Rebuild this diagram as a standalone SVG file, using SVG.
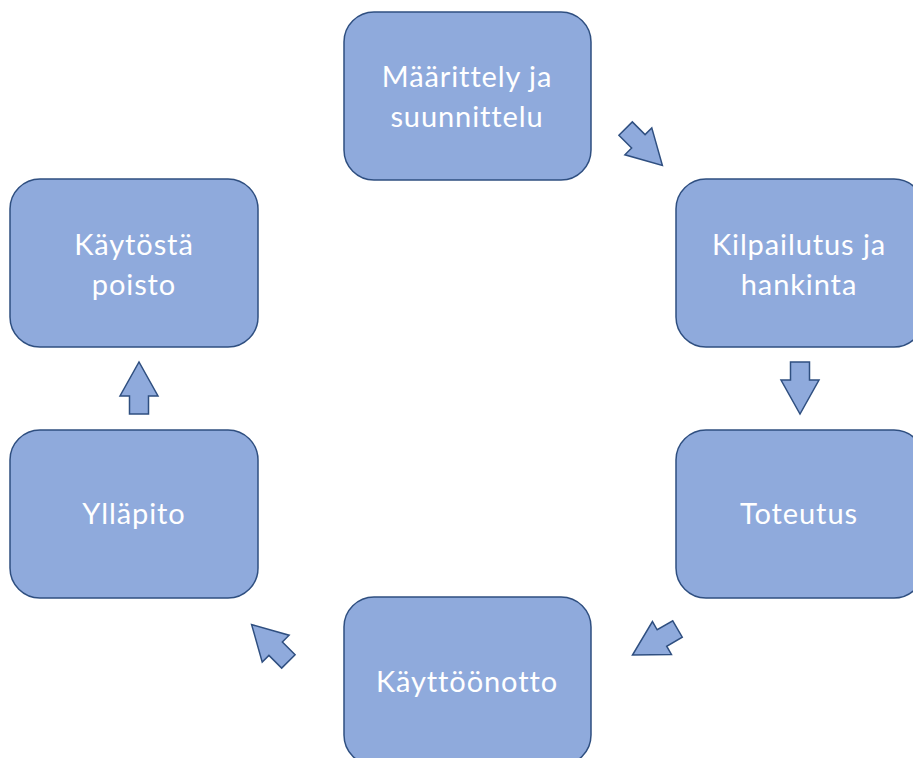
<svg xmlns="http://www.w3.org/2000/svg" width="913" height="758" viewBox="0 0 913 758">
<style>
.box{fill:#8FAADC;stroke:#2F4F80;stroke-width:1.5}
.lbl{fill:#FFFFFF;font-family:Lato,"Open Sans","Liberation Sans",sans-serif;font-size:29px;letter-spacing:0.9px;text-anchor:middle}
.arr{fill:#8FAADC;stroke:#2F4F80;stroke-width:1.5;stroke-linejoin:miter}
</style>
<defs>
<path id="blk" d="M-9.5,-26 L9.5,-26 L9.5,-8 L19,-8 L0,26 L-19,-8 L-9.5,-8 Z"/>
</defs>
<rect width="913" height="758" fill="#FFFFFF"/>
<g id="n1"><rect class="box" x="344" y="12" width="247" height="168" rx="30"/>
<text class="lbl" x="467" y="87">Määrittely ja</text><text class="lbl" x="467" y="127">suunnittelu</text></g>
<g id="n2"><rect class="box" x="676" y="179" width="248" height="168" rx="30"/>
<text class="lbl" x="799" y="255">Kilpailutus ja</text><text class="lbl" x="799" y="295">hankinta</text></g>
<g id="n3"><rect class="box" x="676" y="430" width="248" height="168" rx="30"/>
<text class="lbl" x="799" y="524">Toteutus</text></g>
<g id="n4"><rect class="box" x="344" y="597" width="247" height="168" rx="30"/>
<text class="lbl" x="467" y="692">Käyttöönotto</text></g>
<g id="n5"><rect class="box" x="10" y="430" width="248" height="168" rx="30"/>
<text class="lbl" x="134" y="524">Ylläpito</text></g>
<g id="n6"><rect class="box" x="10" y="179" width="248" height="168" rx="30"/>
<text class="lbl" x="134" y="255">Käytöstä</text><text class="lbl" x="134" y="295">poisto</text></g>
<g id="connectors">
<use href="#blk" class="arr" transform="translate(644,147) rotate(-45)"/>
<use href="#blk" class="arr" transform="translate(800,388)"/>
<use href="#blk" class="arr" transform="translate(655,642) rotate(60)"/>
<use href="#blk" class="arr" transform="translate(270,643) rotate(135)"/>
<use href="#blk" class="arr" transform="translate(139,388) rotate(180)"/>
</g>
</svg>
